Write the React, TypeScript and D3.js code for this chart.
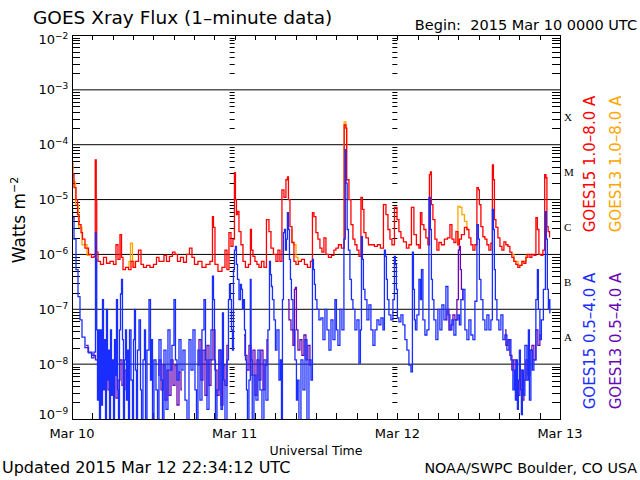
import * as React from "react";
import * as d3 from "d3";

type Pt = [number, number]; // [hours since 2015 Mar 10 00:00 UTC, flux W/m2]

// GOES15 1.0-8.0 A (red)
const goes15Long: Pt[] = [
  [0.0, 4.9e-5], [0.15, 2.85e-5], [0.44, 1.65e-5], [0.74, 1.0e-5], [0.89, 5.3e-6], [1.18, 3.5e-6],
  [1.48, 2.5e-6], [1.62, 1.9e-6], [2.21, 1.3e-6], [2.66, 1.0e-6], [3.1, 8.8e-7], [3.39, 9.2e-7],
  [3.47, 5.3e-5], [3.54, 5.3e-5], [3.61, 1.0e-5], [3.69, 1.1e-6], [3.98, 7.5e-7], [4.43, 6.6e-7],
  [4.87, 8.8e-7], [5.31, 6.9e-7], [5.9, 7.5e-7], [6.34, 6.6e-7], [6.64, 1.5e-6], [6.93, 8.1e-7],
  [7.23, 2.3e-6], [7.38, 8.8e-7], [7.67, 5.3e-7], [8.11, 5.8e-7], [8.56, 5.3e-7], [8.85, 7.5e-7],
  [9.15, 5.8e-7], [9.59, 7.5e-7], [10.03, 1.2e-6], [10.33, 6.6e-7], [10.77, 5.8e-7], [11.21, 6.3e-7],
  [11.8, 5.8e-7], [12.24, 6.6e-7], [12.69, 8.8e-7], [12.98, 7.5e-7], [13.42, 7.5e-7], [13.72, 9.6e-7],
  [14.16, 7.5e-7], [14.6, 9.2e-7], [15.05, 1.1e-6], [15.34, 1.0e-6], [15.78, 7.5e-7], [16.23, 8.8e-7],
  [16.67, 7.2e-7], [17.11, 1.0e-6], [17.55, 1.3e-6], [17.85, 8.8e-7], [18.29, 6.6e-7], [18.88, 7.5e-7],
  [19.47, 5.8e-7], [20.06, 6.6e-7], [20.65, 7.5e-7], [20.8, 4.9e-6], [20.95, 3.1e-6], [21.24, 6.6e-7],
  [21.83, 4.9e-7], [22.42, 5.8e-7], [22.72, 1.2e-6], [23.01, 5.3e-7], [23.31, 2.5e-6], [23.6, 1.4e-6],
  [23.9, 1.9e-6], [24.04, 3.1e-5], [24.19, 1.0e-5], [24.34, 5.3e-6], [24.49, 6.1e-6], [24.78, 2.6e-6],
  [25.08, 1.5e-6], [25.37, 7.5e-7], [25.81, 5.8e-7], [26.26, 6.6e-7], [26.4, 2.85e-6], [26.55, 1.2e-6],
  [26.85, 9.2e-7], [27.14, 7.5e-7], [27.44, 6.6e-7], [27.73, 5.8e-7], [28.17, 7.5e-7], [28.47, 5.8e-7],
  [28.91, 4.3e-6], [29.21, 2.6e-6], [29.5, 1.3e-6], [29.94, 1.0e-6], [30.24, 7.5e-7], [30.53, 1.2e-6],
  [30.83, 7.5e-7], [31.12, 1.5e-5], [31.42, 1.1e-5], [31.71, 2.3e-5], [31.86, 2.6e-5], [32.01, 1.0e-5],
  [32.31, 3.2e-6], [32.6, 1.65e-6], [32.89, 7.5e-7], [33.19, 6.6e-7], [33.63, 7.5e-7], [34.07, 8.1e-7],
  [34.52, 6.6e-7], [34.96, 5.8e-7], [35.4, 7.5e-7], [35.55, 5.8e-6], [35.84, 4.9e-6], [36.14, 2.5e-6],
  [36.43, 1.9e-6], [36.73, 1.3e-6], [37.02, 1.1e-6], [37.32, 2.0e-6], [37.61, 1.0e-6], [38.06, 8.8e-7],
  [38.5, 9.6e-7], [38.79, 1.2e-6], [39.09, 1.3e-6], [39.53, 1.5e-6], [39.97, 1.3e-6], [40.34, 2.3e-4],
  [40.49, 2.0e-4], [40.56, 2.3e-5], [40.71, 2.3e-5], [41.01, 1.0e-5], [41.3, 3.5e-6], [41.6, 1.9e-6],
  [41.89, 1.5e-6], [42.19, 1.2e-6], [42.48, 9.2e-7], [42.78, 1.1e-5], [42.92, 6.6e-6], [43.22, 2.5e-6],
  [43.51, 2.0e-6], [43.96, 1.5e-6], [44.4, 1.5e-6], [44.84, 1.4e-6], [45.28, 1.5e-6], [45.73, 1.3e-6],
  [46.17, 8.1e-6], [46.47, 5.3e-6], [46.76, 2.85e-6], [47.06, 1.9e-6], [47.35, 1.5e-6], [47.8, 7.2e-6],
  [48.09, 4.3e-6], [48.38, 2.6e-6], [48.68, 2.0e-6], [49.12, 1.7e-6], [49.56, 1.3e-6], [49.86, 1.5e-6],
  [50.3, 7.2e-6], [50.59, 2.3e-6], [51.04, 1.5e-6], [51.33, 1.3e-6], [51.48, 5.8e-6], [51.77, 3.5e-6],
  [52.07, 2.85e-6], [52.36, 2.0e-6], [52.66, 1.5e-6], [52.81, 2.85e-5], [52.95, 3.2e-5], [53.1, 8.1e-6],
  [53.4, 4.3e-6], [53.69, 1.9e-6], [53.99, 1.2e-6], [54.28, 1.65e-6], [54.72, 1.5e-6], [55.17, 1.9e-6],
  [55.61, 2.0e-6], [55.91, 3.5e-6], [56.2, 1.9e-6], [56.5, 1.65e-6], [56.79, 2.6e-6], [57.09, 1.5e-6],
  [57.23, 1.9e-6], [57.68, 2.3e-6], [58.12, 3.1e-6], [58.41, 2.85e-6], [58.71, 2.0e-6], [59.0, 1.5e-6],
  [59.3, 1.2e-6], [59.59, 1.5e-6], [59.89, 1.65e-5], [60.03, 1.5e-5], [60.18, 8.1e-6], [60.48, 3.2e-6],
  [60.77, 2.1e-6], [61.07, 1.9e-6], [61.36, 1.5e-6], [61.66, 1.2e-6], [61.95, 1.6e-6], [62.1, 4.3e-5],
  [62.25, 2.3e-5], [62.4, 4.3e-6], [62.69, 3.1e-6], [62.99, 2.0e-6], [63.28, 1.4e-6], [63.58, 1.2e-6],
  [63.87, 1.7e-6], [64.16, 1.5e-6], [64.46, 1.4e-6], [64.75, 1.1e-6], [65.05, 8.8e-7], [65.34, 7.5e-7],
  [65.64, 6.6e-7], [65.93, 5.8e-7], [66.23, 6.3e-7], [66.52, 7.5e-7], [66.82, 6.9e-7], [67.11, 8.8e-7],
  [67.41, 1.0e-6], [67.71, 8.8e-7], [68.0, 1.0e-6], [68.3, 9.6e-7], [68.59, 4.7e-6], [68.74, 2.85e-6],
  [69.04, 1.0e-6], [69.33, 9.6e-7], [69.63, 1.2e-6], [69.85, 2.85e-5], [70.0, 2.5e-5], [70.14, 3.2e-6],
  [70.36, 2.6e-6], [70.55, 2.1e-6],
];

// GOES13 1.0-8.0 A (orange) - the stretches where it shows past GOES15
const goes13Long: Pt[][] = [
  [[0.0, 4.5e-5], [0.3, 2.1e-5], [0.74, 8.1e-6], [1.18, 3.1e-6], [1.77, 1.5e-6], [2.66, 9.6e-7]],
  [[8.26, 5.8e-7], [8.56, 7.5e-7], [8.7, 1.6e-6], [8.85, 1.6e-6], [9.0, 7.5e-7], [9.29, 5.8e-7]],
  [[32.3, 2.85e-6], [32.6, 1.65e-6], [32.9, 1.5e-6], [33.2, 8.8e-7], [33.5, 7.5e-7]],
  [[39.97, 1.3e-6], [40.34, 2.6e-4], [40.49, 2.0e-4], [40.56, 2.3e-5]],
  [[56.79, 1.5e-6], [57.09, 7.5e-6], [57.38, 7.2e-6], [57.68, 5.3e-6], [58.12, 4.0e-6], [58.41, 2.85e-6]],
  [[64.9, 1.0e-6], [65.5, 7.5e-7], [66.1, 6.3e-7], [66.7, 7.5e-7], [67.3, 9.6e-7]],
];

// GOES15 0.5-4.0 A (blue)
const goes15Short: Pt[] = [
  [0.0, 7.5e-6], [0.15, 4.7e-6], [0.44, 1.9e-6], [0.74, 5.3e-7], [1.03, 1.7e-7], [1.33, 6.4e-8],
  [1.62, 3.1e-8], [2.21, 2.0e-8], [2.66, 1.6e-8], [3.1, 1.3e-8], [3.39, 1.65e-8], [3.54, 2.5e-6],
  [3.61, 8.1e-7], [3.69, 4.2e-8], [3.83, 2.2e-9], [3.98, 4.2e-8], [4.13, 8e-10], [4.28, 4.2e-8],
  [4.43, 1.8e-9], [4.57, 1.5e-7], [4.72, 3.4e-9], [4.87, 2.8e-8], [5.02, 8e-10], [5.16, 1.0e-7],
  [5.31, 5.1e-9], [5.46, 1.8e-8], [5.61, 8e-10], [5.75, 4.2e-8], [5.9, 2.7e-9], [6.05, 1.2e-8],
  [6.2, 8e-10], [6.34, 2.8e-8], [6.49, 6.3e-9], [6.64, 1.5e-7], [6.79, 3.4e-9], [6.93, 8e-10],
  [7.08, 4.2e-8], [7.23, 1.9e-7], [7.38, 3.5e-7], [7.52, 2.8e-8], [7.67, 8e-10], [7.82, 1.2e-8],
  [7.97, 4.2e-8], [8.11, 2.2e-9], [8.26, 1.8e-8], [8.41, 8e-10], [8.56, 4.2e-8], [8.85, 5.1e-9],
  [9.0, 8e-10], [9.15, 2.8e-8], [9.29, 1.0e-7], [9.44, 7.8e-9], [9.59, 8e-10], [9.74, 1.8e-8],
  [10.03, 6.4e-8], [10.18, 3.4e-9], [10.33, 8e-10], [10.62, 1.2e-8], [10.77, 4.2e-8], [10.92, 8e-10],
  [11.21, 1.8e-8], [11.51, 1.5e-7], [11.65, 5.1e-9], [11.8, 2.8e-8], [11.95, 8e-10], [12.24, 1.2e-8],
  [12.54, 3.4e-9], [12.69, 8e-10], [12.98, 2.8e-8], [13.28, 5.1e-9], [13.42, 8e-10], [13.72, 1.8e-8],
  [14.01, 1.5e-9], [14.31, 4.2e-8], [14.6, 7.8e-9], [14.9, 2.2e-8], [15.19, 1.5e-7], [15.34, 1.2e-8],
  [15.64, 5.1e-9], [15.93, 2.8e-8], [16.23, 7.8e-9], [16.52, 1.8e-8], [16.82, 2.2e-9], [17.11, 8e-10],
  [17.41, 2.8e-8], [17.7, 7.8e-9], [18.0, 4.2e-8], [18.29, 3.4e-9], [18.44, 8e-10], [18.73, 1.8e-8],
  [19.03, 2.2e-9], [19.32, 4.2e-8], [19.62, 1.5e-7], [19.77, 1.2e-8], [20.06, 1.5e-9], [20.36, 1.2e-8],
  [20.65, 4.2e-8], [20.8, 4.0e-7], [20.95, 1.5e-7], [21.09, 1.2e-8], [21.24, 8e-10], [21.54, 3.4e-9],
  [21.83, 1.8e-8], [22.13, 1.5e-9], [22.27, 8.6e-8], [22.42, 5.1e-9], [22.72, 8e-10], [23.01, 1.2e-8],
  [23.16, 1.5e-7], [23.31, 2.85e-7], [23.45, 1.5e-7], [23.6, 4.2e-8], [23.75, 1.8e-8], [23.9, 5.3e-7],
  [24.04, 1.2e-6], [24.19, 1.4e-6], [24.34, 6.6e-7], [24.49, 3.5e-7], [24.78, 1.5e-7], [24.93, 2.85e-7],
  [25.08, 2.3e-7], [25.22, 1.0e-7], [25.37, 1.5e-7], [25.52, 4.2e-8], [25.67, 1.2e-8], [25.81, 3.4e-9],
  [25.96, 8e-10], [26.26, 5.1e-9], [26.36, 3.5e-7], [26.48, 1.2e-8], [26.7, 8e-10], [26.99, 6.3e-9],
  [27.29, 2.2e-9], [27.58, 1.8e-8], [27.88, 3.4e-9], [28.17, 8e-10], [28.47, 1.2e-8], [28.76, 2.2e-9],
  [29.06, 4.2e-8], [29.21, 7.5e-7], [29.35, 4.3e-7], [29.5, 2.6e-7], [29.65, 1.5e-7], [29.94, 6.4e-8],
  [30.09, 1.8e-8], [30.39, 4.2e-8], [30.68, 5.1e-9], [30.83, 1.2e-8], [30.98, 8e-10], [31.12, 1.5e-7],
  [31.27, 2.5e-6], [31.42, 2.85e-6], [31.57, 1.2e-6], [31.71, 1.9e-6], [31.86, 5.8e-6], [32.01, 2.85e-6],
  [32.16, 8.1e-7], [32.3, 3.5e-7], [32.45, 1.5e-7], [32.75, 4.2e-8], [33.04, 1.2e-8], [33.19, 2.2e-9],
  [33.34, 5.1e-9], [33.63, 8e-10], [33.93, 1.2e-8], [34.22, 3.4e-9], [34.52, 2.8e-8], [34.81, 8e-10],
  [35.11, 1.2e-8], [35.4, 5.1e-9], [35.55, 8.1e-7], [35.7, 5.3e-7], [35.84, 2.85e-7], [35.99, 1.5e-7],
  [36.29, 1.0e-7], [36.58, 6.4e-8], [36.88, 7.0e-8], [37.17, 2.8e-8], [37.47, 1.0e-7], [37.76, 4.2e-8],
  [38.06, 1.8e-8], [38.35, 6.4e-8], [38.65, 2.8e-8], [38.94, 1.5e-7], [39.09, 4.2e-8], [39.38, 2.2e-8],
  [39.68, 1.0e-7], [39.97, 4.2e-8], [40.27, 1.9e-6], [40.37, 8.1e-5], [40.49, 2.0e-5], [40.71, 2.85e-6],
  [40.86, 1.2e-6], [41.15, 3.5e-7], [41.3, 1.5e-7], [41.6, 1.0e-7], [41.89, 4.2e-8], [42.19, 6.4e-8],
  [42.48, 1.04e-8], [42.63, 4.2e-8], [42.78, 2.1e-6], [42.92, 8.1e-7], [43.07, 2.3e-7], [43.37, 1.5e-7],
  [43.66, 6.4e-8], [43.96, 1.2e-7], [44.25, 4.2e-8], [44.55, 2.2e-8], [44.84, 4.2e-8], [45.14, 6.4e-8],
  [45.43, 5.2e-8], [45.73, 7.0e-8], [46.02, 4.2e-8], [46.17, 1.2e-6], [46.32, 9.2e-7], [46.46, 3.5e-7],
  [46.61, 1.5e-7], [46.91, 7.9e-8], [47.2, 6.4e-8], [47.5, 1.5e-7], [47.64, 9.2e-7], [47.79, 6.6e-7],
  [47.94, 2.3e-7], [48.09, 7.0e-8], [48.38, 5.9e-8], [48.68, 7.9e-8], [48.97, 5.2e-8], [49.27, 2.8e-8],
  [49.56, 1.8e-8], [49.86, 9.6e-9], [50.15, 7.2e-9], [50.3, 1.1e-6], [50.45, 2.3e-7], [50.59, 6.4e-8],
  [50.74, 4.2e-8], [51.04, 7.9e-8], [51.33, 3.5e-7], [51.48, 1.5e-7], [51.63, 5.3e-7], [51.92, 6.4e-8],
  [52.22, 3.4e-8], [52.51, 4.2e-8], [52.81, 1.1e-5], [52.95, 2.85e-6], [53.1, 3.5e-7], [53.25, 1.5e-7],
  [53.54, 6.4e-8], [53.84, 2.8e-8], [54.13, 1.0e-7], [54.43, 4.2e-8], [54.72, 1.2e-7], [55.02, 6.4e-8],
  [55.31, 2.6e-7], [55.61, 7.9e-8], [55.9, 4.2e-8], [56.2, 6.4e-8], [56.49, 3.4e-8], [56.79, 6.4e-8],
  [57.08, 7.9e-8], [57.23, 5.2e-8], [57.53, 1.5e-7], [57.82, 2.3e-7], [58.12, 4.2e-8], [58.41, 2.8e-8],
  [58.71, 6.4e-8], [59.0, 3.4e-8], [59.3, 2.8e-8], [59.59, 1.4e-7], [59.89, 3.5e-6], [60.03, 1.9e-6],
  [60.18, 3.5e-7], [60.48, 1.5e-7], [60.77, 6.4e-8], [61.07, 4.2e-8], [61.36, 7.9e-8], [61.66, 4.2e-8],
  [61.95, 6.4e-8], [62.1, 6.6e-6], [62.25, 2.85e-6], [62.39, 5.3e-7], [62.54, 1.5e-7], [62.84, 6.4e-8],
  [63.13, 4.2e-8], [63.43, 7.9e-8], [63.72, 2.8e-8], [64.02, 3.4e-8], [64.31, 1.8e-8], [64.61, 2.8e-8],
  [64.9, 1.2e-8], [65.2, 3.4e-9], [65.34, 7.8e-9], [65.49, 2.2e-9], [65.64, 1.2e-8], [65.79, 1.5e-9],
  [65.93, 5.1e-9], [66.08, 1.8e-8], [66.23, 3.4e-9], [66.38, 1.2e-9], [66.52, 7.8e-9], [66.67, 2.7e-9],
  [66.97, 2.2e-8], [67.26, 5.1e-9], [67.41, 4.2e-8], [67.56, 2.2e-9], [67.85, 1.8e-8], [68.0, 7.8e-9],
  [68.29, 1.2e-8], [68.59, 1.5e-7], [68.74, 5.3e-7], [68.88, 1.0e-7], [69.18, 2.8e-8], [69.33, 6.4e-8],
  [69.77, 2.3e-7], [69.92, 6.0e-6], [70.06, 1.9e-6], [70.21, 2.3e-7], [70.36, 1.0e-7], [70.45, 1.5e-7],
  [70.55, 8.6e-8],
];

// GOES13 0.5-4.0 A (purple) - the stretches where it shows past GOES15
const goes13Short: Pt[][] = [
  [[2.07, 2.2e-8], [2.66, 1.65e-8], [3.25, 1.45e-8], [3.69, 1.2e-8], [4.13, 7.8e-9], [4.57, 1.1e-8],
   [4.87, 4.1e-9], [5.16, 9.6e-9], [5.46, 3.4e-9], [5.75, 7.2e-9], [6.05, 2.7e-9], [6.34, 6.3e-9],
   [6.64, 2.4e-9], [6.93, 5.1e-9], [7.23, 1.2e-8], [7.52, 4.1e-9], [7.82, 7.8e-9], [8.11, 3.4e-9]],
  [[12.69, 6.3e-9], [12.98, 1.2e-8], [13.28, 3.4e-9], [13.57, 9.6e-9], [13.87, 2.2e-9], [14.16, 7.8e-9],
   [14.46, 2.7e-9], [14.75, 1.2e-8], [15.05, 4.1e-9], [15.34, 9.6e-9], [15.64, 1.8e-9], [15.93, 7.2e-9],
   [16.23, 3.4e-9]],
  [[18.59, 9.6e-9], [18.88, 2.8e-8], [19.18, 5.1e-9], [19.47, 1.8e-8], [19.77, 2.7e-9], [20.06, 2.2e-8],
   [20.36, 4.1e-9], [20.65, 1.2e-8], [20.95, 4.2e-8], [21.24, 7.8e-9], [21.54, 2.7e-9], [21.83, 1.8e-8],
   [22.13, 1.8e-9], [22.42, 9.6e-9], [22.72, 4.1e-9], [23.01, 2.2e-8]],
  [[25.37, 3.4e-8], [25.67, 1.45e-8], [25.96, 7.8e-9], [26.26, 2.2e-8], [26.55, 6.3e-9], [26.85, 1.8e-8],
   [27.14, 2.7e-9], [27.44, 1.2e-8], [27.73, 5.1e-9], [28.03, 1.8e-8], [28.32, 3.4e-9], [28.62, 9.6e-9],
   [28.91, 2.8e-8]],
  [[31.86, 1.5e-7], [32.16, 6.4e-8], [32.45, 4.2e-8], [32.75, 2.2e-8], [32.89, 2.3e-7], [33.04, 2.5e-7],
   [33.19, 4.2e-8], [33.48, 1.8e-8], [33.78, 2.8e-8], [34.07, 1.45e-8], [34.37, 3.4e-8], [34.66, 1.2e-8],
   [34.96, 2.2e-8], [35.25, 9.6e-9]],
  [[55.17, 6.4e-8], [55.46, 1.0e-7], [55.76, 4.2e-8], [56.05, 5.2e-8], [56.35, 7.9e-8], [56.64, 6.4e-8],
   [56.94, 1.5e-7], [57.08, 1.2e-6], [57.23, 1.4e-6], [57.38, 5.3e-7], [57.53, 2.3e-7], [57.82, 1.5e-7]],
  [[63.87, 4.2e-8], [64.16, 2.2e-8], [64.46, 2.8e-8], [64.75, 1.45e-8], [65.05, 7.8e-9], [65.34, 1.2e-8],
   [65.64, 4.1e-9], [65.93, 2.7e-9], [66.23, 7.8e-9], [66.52, 2.2e-9], [66.82, 5.1e-9], [67.11, 1.2e-8],
   [67.41, 6.3e-9], [67.71, 1.8e-8], [68.0, 2.2e-8], [68.29, 1.2e-8], [68.59, 4.2e-8], [68.88, 2.2e-8],
   [69.18, 3.4e-8]],
];

const dayLabels = ["Mar 10", "Mar 11", "Mar 12", "Mar 13"];
const decadeExps = [-9, -8, -7, -6, -5, -4, -3, -2];
const flareClasses = ["A", "B", "C", "M", "X"];
const flareBase = [1e-8, 1e-7, 1e-6, 1e-5, 1e-4];
const legend = [
  { text: "GOES15 1.0–8.0 A", color: "#ff0000", col: 0, mid: 164 },
  { text: "GOES13 1.0–8.0 A", color: "#ffa500", col: 1, mid: 164 },
  { text: "GOES15 0.5–4.0 A", color: "#1a2dff", col: 0, mid: 341 },
  { text: "GOES13 0.5–4.0 A", color: "#6a06b4", col: 1, mid: 341 },
];

const W = 640;
const H = 480;
const L = 72, R = 560, T = 35, B = 419;
const font = "'DejaVu Sans', sans-serif";

const App = () => {
  const x = d3.scaleLinear().domain([0, 72]).range([L, R]);
  const y = d3.scaleLog().domain([1e-9, 1e-2]).range([B, T]);

  const line = d3
    .line<Pt>()
    .x(d => x(d[0]))
    .y(d => y(Math.max(d[1], 5e-10)))
    .curve(d3.curveStep);

  const minors: number[] = [];
  decadeExps.slice(0, -1).forEach(e => {
    for (let m = 2; m <= 9; m++) minors.push(m * Math.pow(10, e));
  });
  const hourTicks = d3.range(0, 73, 3);
  const dayHours = [24, 48];

  return (
    <svg width={W} height={H} style={{ position: "absolute", left: 0, top: 0, background: "#fff" }}>
      <defs>
        <clipPath id="plot">
          <rect x={L} y={T} width={R - L} height={B - T} />
        </clipPath>
      </defs>

      {/* decade grid */}
      {decadeExps.slice(1, -1).map(e => (
        <line key={e} x1={L} x2={R} y1={y(Math.pow(10, e))} y2={y(Math.pow(10, e))} stroke="#000" />
      ))}

      {/* minor y ticks: left, right, and at day boundaries */}
      {minors.map((v, i) => (
        <g key={i} stroke="#000">
          <line x1={L} x2={L + 8} y1={Math.round(y(v)) + 0.5} y2={Math.round(y(v)) + 0.5} />
          <line x1={R - 8} x2={R} y1={Math.round(y(v)) + 0.5} y2={Math.round(y(v)) + 0.5} />
          {dayHours.map(h => (
            <line key={h} x1={x(h) - 5} x2={x(h)} y1={Math.round(y(v)) + 0.5} y2={Math.round(y(v)) + 0.5} />
          ))}
        </g>
      ))}

      {/* 3-hour ticks top and bottom */}
      {hourTicks.map(h => (
        <g key={h} stroke="#000">
          <line x1={Math.round(x(h)) + 0.5} x2={Math.round(x(h)) + 0.5} y1={T} y2={T + 5} />
          <line x1={Math.round(x(h)) + 0.5} x2={Math.round(x(h)) + 0.5} y1={B - 6} y2={B} />
        </g>
      ))}

      <g clipPath="url(#plot)" fill="none" strokeWidth={1.3}>
        {goes13Long.map((seg, i) => (
          <path key={"o" + i} d={line(seg) || ""} stroke="#ffa500" />
        ))}
        <path d={line(goes15Long) || ""} stroke="#ff0000" />
        {goes13Short.map((seg, i) => (
          <path key={"p" + i} d={line(seg) || ""} stroke="#6a06b4" />
        ))}
        <path d={line(goes15Short) || ""} stroke="#1a2dff" />
      </g>

      <rect x={L + 0.5} y={T + 0.5} width={R - L} height={B - T} fill="none" stroke="#000" />

      {/* y labels */}
      {decadeExps.map(e => {
        const base = Math.min(Math.max(y(Math.pow(10, e)) + 4.5, T + 8.5), B);
        return (
          <g key={e} fontFamily={font} fill="#000">
            <text x={55} y={base} fontSize={13} textAnchor="end">10</text>
            <text x={55} y={base - 5} fontSize={9}>{"−" + Math.abs(e)}</text>
          </g>
        );
      })}

      {/* flare classes */}
      {flareClasses.map((c, i) => (
        <text
          key={c}
          x={R + 4}
          y={y(flareBase[i] * Math.sqrt(10)) + 4}
          fontFamily="'Liberation Serif', 'DejaVu Serif', serif"
          fontSize={11}
        >
          {c}
        </text>
      ))}

      {/* x labels */}
      {dayLabels.map((d, i) => (
        <text key={d} x={x(i * 24)} y={438} textAnchor="middle" fontFamily={font} fontSize={13}>
          {d}
        </text>
      ))}
      <text x={316} y={455} textAnchor="middle" fontFamily={font} fontSize={12.5}>
        Universal Time
      </text>

      <text x={33} y={24} fontFamily={font} fontSize={18.5}>
        GOES Xray Flux (1–minute data)
      </text>
      <text x={637} y={30} textAnchor="end" fontFamily={font} fontSize={14.5} style={{ whiteSpace: "pre" }}>
        {"Begin:  2015 Mar 10 0000 UTC"}
      </text>
      <text transform="translate(25,220) rotate(-90)" textAnchor="middle" fontFamily={font} fontSize={17}>
        Watts m<tspan dy={-7} fontSize={11}>−2</tspan>
      </text>

      {legend.map(l => (
        <text
          key={l.text}
          transform={`translate(${595 + l.col * 26},${l.mid}) rotate(-90)`}
          textAnchor="middle"
          fontFamily={font}
          fontSize={15}
          fill={l.color}
        >
          {l.text}
        </text>
      ))}

      <text x={2} y={473} fontFamily={font} fontSize={16}>
        Updated 2015 Mar 12 22:34:12 UTC
      </text>
      <text x={637} y={473} textAnchor="end" fontFamily={font} fontSize={14.3}>
        NOAA/SWPC Boulder, CO USA
      </text>
    </svg>
  );
};

export default App;
